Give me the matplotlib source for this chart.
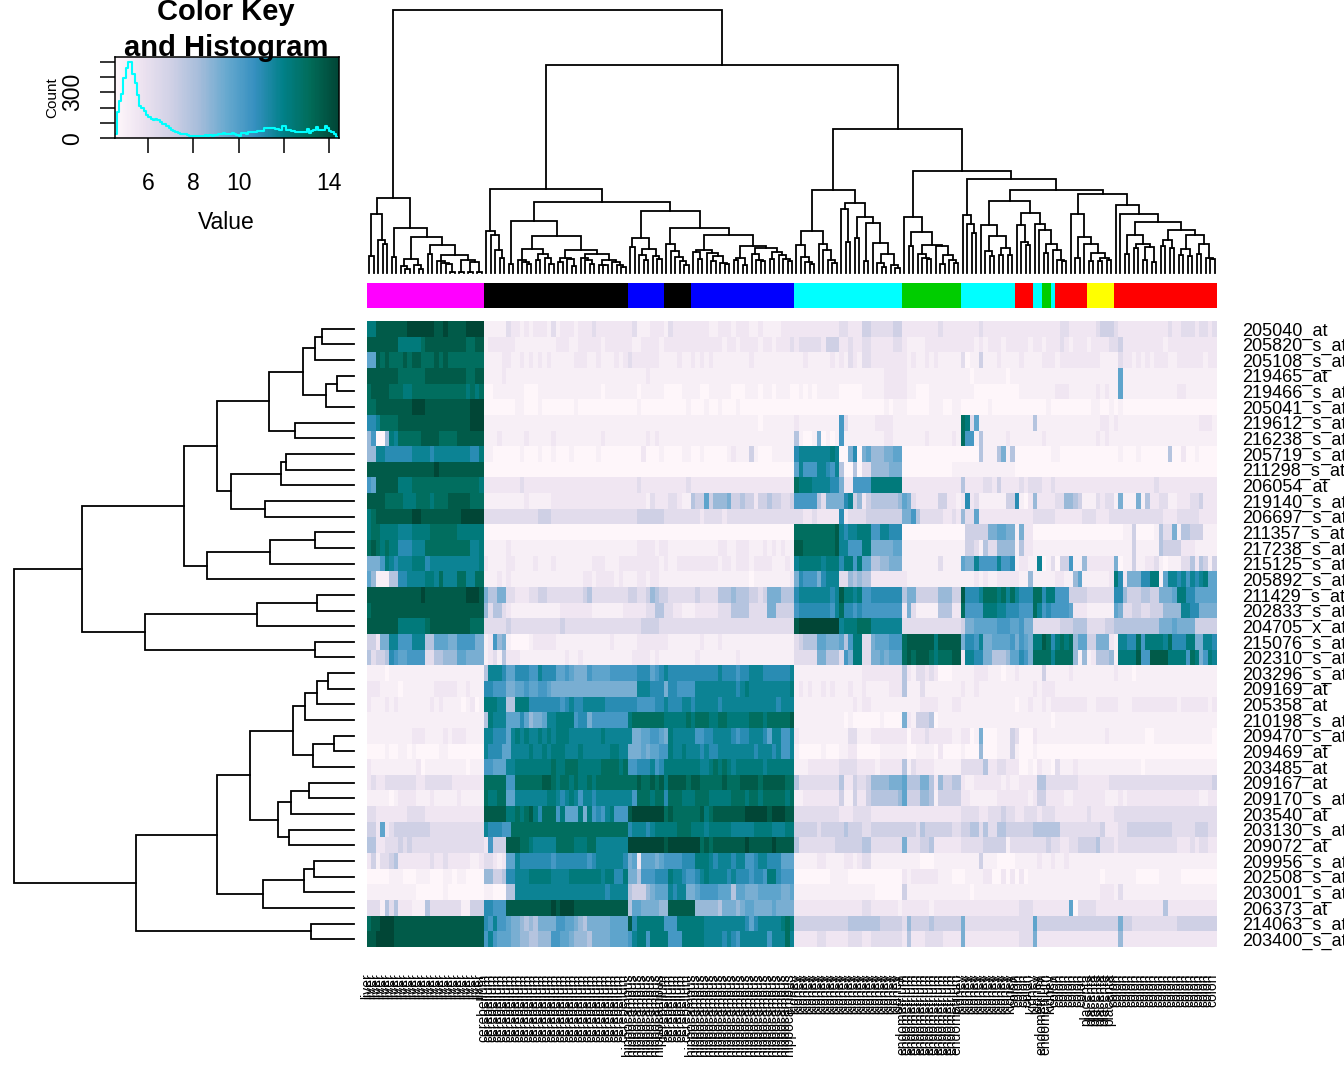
import numpy as np
import matplotlib
matplotlib.use("Agg")
import matplotlib.pyplot as plt
from matplotlib.colors import LinearSegmentedColormap, ListedColormap
from matplotlib.transforms import ScaledTranslation

W, H = 1344, 1075

plt.rcParams["font.family"] = ["Liberation Sans", "DejaVu Sans"]

PUBUGN = ["#FFF7FB", "#ECE2F0", "#D0D1E6", "#A6BDDB", "#67A9CF",
          "#3690C0", "#02818A", "#016C59", "#014636"]

# sample groups, left to right
TISSUE_NAMES  = ["liver", "cerebellum", "hippocampus", "cerebellum", "hippocampus",
                 "kidney", "endometrium", "kidney", "colon", "kidney",
                 "endometrium", "kidney", "colon", "placenta", "colon"]
TISSUE_COUNTS = [26, 32, 8, 6, 23, 24, 13, 12, 4, 2, 2, 1, 7, 6, 23]
TISSUE_COLORS = {
    "liver": "#FF00FF", "cerebellum": "#000000", "hippocampus": "#0000FF",
    "kidney": "#00FFFF", "endometrium": "#00CD00", "colon": "#FF0000",
    "placenta": "#FFFF00",
}

PROBES = [
    "205040_at", "205820_s_at", "205108_s_at", "219465_at", "219466_s_at",
    "205041_s_at", "219612_s_at", "216238_s_at", "205719_s_at", "211298_s_at",
    "206054_at", "219140_s_at", "206697_s_at", "211357_s_at", "217238_s_at",
    "215125_s_at", "205892_s_at", "211429_s_at", "202833_s_at", "204705_x_at",
    "215076_s_at", "202310_s_at", "203296_s_at", "209169_at", "205358_at",
    "210198_s_at", "209470_s_at", "209469_at", "203485_at", "209167_at",
    "209170_s_at", "203540_at", "203130_s_at", "209072_at", "209956_s_at",
    "202508_s_at", "203001_s_at", "206373_at", "214063_s_at", "203400_s_at",
]

# expression value for each hex digit used in ROW_LEVELS
LEVEL_VALUES = [4.6, 5.0, 5.5, 6.2, 7.0, 7.8, 8.5, 9.1, 9.7, 10.3, 11.0, 11.7, 12.3, 13.0, 13.7, 14.4]
KEY_MIN, KEY_MAX = 4.53, 14.41

# one string per probe, one hex digit per sample (0 = palest, f = darkest)
# blocks of ten so the columns stay countable
ROW_LEVELS = [
    "cceeeeeeef fffffeefee eeffff1111 1322121222 1312221222 3222222223 1112221322 2222221122 2122211211 1122222222 2222233222 4433333442 2222222322 2222223222 2222222222 2222332222 2234443222 2222222232 233323323",
    "eeeeeeeccc ccdeeeeeee eeddee1222 2221111111 1122211222 2212222221 1222212222 2222222221 2212222122 1222323333 3244422322 3322222332 1111222222 2222212122 2122222122 1222321222 1222233422 2222222122 222222222",
    "88ededdded eedddededd dddddd1111 2211212121 2111112221 1211121232 2222211112 1121212111 1111121111 1111111211 1112121321 3322222222 1211212111 1130114111 2111121111 2221222222 2221111322 1212122211 222222122",
    "eeeeeeeddd dddeeeeeee eeddee1111 2111111111 1111111111 1111111111 1121111111 1111111111 1111111111 1111111111 1111111111 1111122222 1111111111 1111011111 1101111111 1111111111 1111111811 1111111111 111111111",
    "deeeedddcc dddddddddd ddcdcd0011 1111100011 1111111111 1101111111 0111110000 1111001111 1000111011 0111001010 1111100000 1111122222 1100011111 1111100000 0000011111 1112221111 1121211811 1111111111 221111111",
    "ddeeeeeeee fffeeeeeee eeefff0000 0001100010 0000001000 0000000000 1000000000 0100010010 0010000000 0000000000 0000000000 0000010111 0000011100 1100000010 0000000000 0100000000 0110010100 0000000000 000000000",
    "aabddddeee eeeeeeeeee eeefff1111 1111111111 1111111111 1111111111 1111111111 1111111111 1111111011 1111121111 1111193111 1112222111 1111111111 11dc381111 1111111151 1111111111 1112212111 1111111111 111112221",
    "69006cbddd ddeeeedddd eeeeee1112 1111121111 1211111111 1121111111 1121211111 1111111111 1111111111 1111151001 7010191111 1111122111 1111211111 21d9915111 1121111111 2111111111 1121211111 1111111111 111111111",
    "66bbaaaaaa bbbbabbbbb bbbaac1100 0000100010 0100010000 0100000000 0200010000 1100100000 1211141000 11111abbbb bbbcb007a0 7866677880 0000000000 0000005111 5715000000 0011000000 0000000100 0100000050 020010000",
    "eeeeeeeeee eeeeefeeee eeeeee0000 0000000000 0000000000 0000000000 0000000000 0000000000 0000000000 000008b999 bba9b50050 3366667770 0000000000 1111111111 1111000000 0000000000 0000000000 0000000000 000000000",
    "98eeeeeccc dddddddddd dddddc2222 2222322222 2222222222 2222222222 3222222222 2322222222 2222222222 22222dcccb bbbaa72299 99ccccccc2 2222222222 2252222332 4222232333 2232222222 2222222222 2222232222 222222222",
    "eeeeddddcc cdddcdddee eeeddd1111 1111121111 1222222222 2222222222 2213222332 1154484666 7445442445 4433499999 537777ab46 2455555568 7322222442 212a231111 1144a10262 2223366541 1132331711 1715223311 222334222",
    "cdeeeeeeee ffeeeeeeee efffff3333 3333333344 4333333333 3333333333 4444443333 3333233332 3333333333 3333333223 22222a2333 3444444447 7953333322 3263382222 2222222233 3332222223 3322233333 3333333222 333332222",
    "cddccccbbb ccccdddddd cccccc0000 0000000000 0000000000 0000000000 0000000000 0000000000 0000000000 00000ddddd ddddebabbc cc99bbaaa0 0000000000 0004444477 8877172200 0000000000 0000000011 4000015337 155444111",
    "dedcdccaaa bbbddddddd dddbbc1111 1211111111 1111111111 1111111111 2222122111 1111111122 1122211121 21211eeddd ddddebb999 cc77777881 1111111111 1114431533 6666152211 1111111111 1111111111 4111115444 422211111",
    "7779cbabbb cccabbbbbb bbbbbc2111 1221111211 1211111111 2221112222 2222212112 2222222212 2122212222 11121bcccc cbcccacc9c 8855667771 1111111311 11877b9999 b99a12211b 0130449116 2222227011 4112231011 133525414",
    "8611155aab bbbccbdbbb ddbbdd1112 1211111111 1111111122 1222212111 2212211111 1111111111 1111101111 111127a999 7abbb33656 5522222222 1111111111 1111121211 2222211611 1112211681 111112ca27 77aacc18bb ab9babc88",
    "eeeeeeeeee eefeeeeeee eefffe7557 7332223344 3333333345 3333333344 3346544333 3334333355 5655544347 77555abbbb bbbabeccbc 99aaaaaaa5 7744444666 44eaaabddd cdbdbaaadd acc9994444 333333aa64 4455447778 ccaa88888",
    "deeeeeeeee eeeeeeeeee eeeeee6355 3211111111 1112222222 1111111222 2233553322 1112222233 3555533337 744449aaaa aaa9bdaa9a 9999999992 7311111555 22d9999ccc bbaaa999db 9a99998222 1111118733 4433444666 6bbaa7777",
    "eeeeeeeccc cccdeeeeee eeeddd3333 3433333333 3334333333 3333333333 3444433333 3333333333 3333333333 33333effff fffffbcccd ddbbbbbbb3 3333333333 3347788888 9998897733 3333444555 3333445555 5555557778 777744444",
    "44277bb999 bbb5588877 9999771296 7100001222 2211111111 1111211111 2222222111 1111211121 1111111111 1111134555 88777859cc 337888999d eeeeeeceee ee7aa9b778 88897987cc edacdcd688 4477721bba ad9ccccbda aacc77bba",
    "53445a9889 9993355666 8877771231 5222111111 1111211211 1111111112 2221211111 1112111111 1121111111 1111133333 77555397cc 337787888d edeeedcddd ee2bbaa775 55688a97dd ddbdddd616 1255561ccc ce99eeeecc cc9dc79cb",
    "1111011111 1111111111 1111115bbb a88aaa99ba aa88987779 8888999999 aaa89abaaa aaaaaaaaba aa9aabbbaa aaaab11111 1111111111 2222222225 2133232000 1111122211 1011211111 4111112111 1111112111 0111111111 111111111",
    "2221111011 1111122222 112111aa99 9778898899 8777777777 7777777777 bbbaaa7aa9 999bbbbbbb bbabcbbbbb bbbbc12121 1212111211 2111112225 1113111111 1121121111 1111111121 2221111111 1111111111 1111111111 111111111",
    "2111212111 1111212111 101201cccb b55cccaaaa aaa9abaabb bbbaaaaaaa 9999aabaaa bbabbbbbab bbbbbbbbbb babbb11111 1111111121 2211111111 1112222111 2211111111 1111011211 2122222222 1122222111 2222222222 122222212",
    "1111111111 1111111111 1111115cbb b888a86778 bbcccc9aa7 99999999cd ddddddcccc cdcdddccdd cccccdddcd dddde11111 1111110100 0000100007 2144450111 1111111111 1111111111 1101111111 1111111111 1111111111 111111111",
    "1111111111 2221111212 221111bbaa a8bcbcbbcb cbcccbbbbb bbcbbbbbb7 7889987cbb bbb99aabbb ba9aabbba8 bb99b21111 1111111331 1122222222 0222322222 1122017000 1114300021 1111111111 1111211111 1110011111 111111110",
    "0000100110 1000001100 000000baaa 88bbbbcbbc bcccbbbcbb bbbbccbb77 7878899cbb cbbbabaabb bbbbbbabbb ab99b10000 0100011220 0000111111 0011110200 0010006000 1114100010 0000000000 0000000000 0000000000 000000000",
    "2111111111 1201111111 1101119988 8bbccccccc cdccdddccc ccddddcd99 aaab9acccc ccccbbcdcd cbccccccbc ccccc11122 2222233332 2221222225 1322221111 1133333522 3322200102 1103111211 1111111111 1101111111 111111111",
    "2322333333 3223333332 222222dddd d99dddddde edcddcdccd cddddddddd eddedeceee edeeddddde dddeeeedee eeedd53333 3333352243 3466667778 5557752644 5521122222 2121122225 5333333322 2222233333 3333333333 333333334",
    "1111101222 2111211111 211111dccd d88bbbbbbb ccbabcb9bb abbbbbbbb9 dddcddaddd cccdddcccc cdddcddcdd dddcd11222 2222241142 2455555568 4446651444 4422111111 2222222124 4222211222 2222111212 2222222222 222221122",
    "3322222223 3332222222 222222eeee eccdcdecad dd9c888c7c 9a9bc999ef ffffffdedd ddddecdeee eeeefffffe fffee33333 3333322233 3322222222 2222222222 2233332233 3433223332 3332222222 3222223333 3333333333 333333333",
    "4428234444 4444333333 333333baaa 99dddddddd dddddddddd ddddddddab bbabcccccd ddcccbcccc cbbbbbcccc bbbcc44444 3444445444 3344444444 4435444444 3344553533 5544444455 5555333333 3334222334 4444444443 333344433",
    "5522333434 3333333333 3333332944 4eeeddcbbb bbddddcccd dbbbbbbbff ffffffefff ffffdedeee eeeefeeeee feeee53333 3333444444 5533333337 3334452222 2233333444 4413333333 3433223344 4453332333 3333333333 222323322",
    "2413345222 2222322322 2221123321 288baaaaaa a9aaaaaaa9 abbbbbba78 2888789999 aaacccbabb babb99abba aa88811111 2211112212 3311111111 1110001111 1111114111 0000111112 1121121111 1111111111 1111111111 111111111",
    "0000011100 0111000110 1100006644 5aabbbcccc cbbbbccccc ccbccaac77 5999aaacbb a99abcbbbb abaaa9aa9c ca99900000 0001111000 0000000002 1222222111 0001111220 0202020111 1111111111 1110111111 1000001111 100000000",
    "1111111111 1000000100 0000001100 055bbbbbbb bbbbbbbbbb bbbabbbb54 4467888bab b778999988 8588777888 8877811111 1111111111 1110000004 1111111111 1111011111 1111111111 1111111111 1112221311 1111111111 111111111",
    "3331535222 1115333333 311444aa99 9eeeeeeeee efefffeeee eeeeeeee58 8777766eee eee6666657 7767887777 8777722222 2222222222 3322222212 2222212222 2222222222 2222233322 2222228033 3322222222 2222222522 222222222",
    "deefffeeee eeeeeeeeee eeeeeea9b9 9877656577 7799887657 77778888ea cccccc999c cccccbbbbb bbbba8abbb bbcdc44444 4444444555 5555444443 6444454444 4473333333 3333333384 4444444444 4444444744 3333333333 444444444",
    "eeffffeeee eeeeeeeeee eeeeee9b98 8877665566 6998876665 777788889b cc9cccc999 cccccbbbba ba9bbbbbb9 bbbdb22222 3322222333 2233333332 5222333322 2272222222 2222233372 2222222222 2222222622 2222222222 222222222",
]

# color key histogram, bins 0.1 wide starting at 4.5
HIST_START = 4.5
HIST_COUNTS = [30, 170, 240, 290, 390, 460, 500, 500, 420, 360, 280, 210, 200, 180, 150,
               140, 125, 120, 125, 120, 105, 95, 95, 80, 70, 55, 45, 38, 32, 28, 25, 25,
               20, 18, 18, 16, 18, 14, 14, 18, 20, 18, 20, 18, 20, 22, 28, 30, 36, 28,
               30, 26, 34, 28, 20, 18, 32, 34, 30, 38, 38, 44, 44, 48, 48, 50, 65, 70,
               64, 70, 68, 62, 60, 55, 78, 78, 52, 55, 50, 48, 42, 44, 44, 42, 44, 58,
               35, 48, 52, 75, 55, 55, 56, 78, 70, 50, 40, 25, 10]
KEY_TICKS = [6, 8, 10, 12, 14]
KEY_TICK_LABELS = ["6", "8", "10", "", "14"]
COUNT_TICKS = [0, 100, 200, 300, 400, 500]
COUNT_TICK_LABELS = ["0", "", "", "300", "", ""]

# dendrograms: [height, left, right], 0 = leaf. heights in drawing units
LIVER_TREE = [75,
    [59, [17, 0, 0], [33, 0, [29, 0, 0]]],
    [45, [16, 0, 0],
     [36, [14, [7, 0, [4, 0, 0]], [8, 0, [4, 0, 0]]],
      [28, [19, 0, 0],
       [18, [12, 0, [10, 0, [9, 0, [1, 0, 0]]]],
        [13, [1, 0, 0], [11, [1, 0, 0], [1, 0, 0]]]]]]]]

BRAIN_TREE = [84,
    [42, 0, [38, 0, [23, 0, [15, 0, 0]]]],
    [71,
     [52, [9, 0, 0],
      [37,
       [24, [13, 0, [11, 0, [9, 0, 0]]], [19, [13, 0, 0], [15, 0, [9, 0, 0]]]],
       [23, [15, [11, 0, 0], [14, 0, [7, 0, 0]]],
        [19, [15, 0, [13, 0, [9, 0, 0]]],
         [13, [8, 0, [8, 0, 0]], [11, 0, [8, 0, [6, 0, 0]]]]]]]],
     [62,
      [35, [26, 0, 0], [24, [18, 0, [13, 0, 0]], [17, 0, [14, 0, 0]]]],
      [45,
       [29, 0, [22, 0, [16, 0, [12, 0, [8, 0, 0]]]]],
       [38,
        [23, [21, 0, [14, 0, 0]], [20, 0, [17, [12, 0, 0], [10, 0, [9, 0, 0]]]]],
        [27, [15, [13, 0, 0], [8, 0, 0]],
         [25, [19, 0, [13, 0, [12, 0, 0]]],
          [21, [14, 0, 0], [18, 0, [14, 0, [12, 0, 0]]]]]]]]]]]

KIDNEY_TREE = [83,
    [42, [28, 0, [16, 0, [11, 0, [9, 0, 0]]]], [29, 0, [23, 0, [13, 0, [10, 0, 0]]]]],
    [70, [64, 0, [31, 0, 0]],
     [56, [35, 0, 0],
      [50, [12, 0, 0],
       [30, 0, [19, [10, 0, [6, 0, 0]], [8, 0, [5, 0, 0]]]]]]]]

MIXED_TREE = [102,
    [56, 0, [41, [27, 0, 0],
             [28, [19, 0, [15, 0, [14, 0, 0]]],
              [27, 0, [18, [9, 0, 0], [13, 0, [10, 0, 0]]]]]]],
    [94,
     [58, 0, [49, 0, [40, 0, 0]]],
     [83,
      [72,
       [48, 0, [37, [22, 0, [17, 0, 0]], [25, [18, 0, 0], [18, 0, 0]]]],
       [60, [48, 0, [31, 0, [28, 0, 0]]],
        [49, 0, [43, 0, [29, [20, 0, 0], [23, 0, [13, 0, [12, 0, 0]]]]]]]],
      [79,
       [59, 0, [36, [15, 0, 0], [29, 0, [20, [12, 0, 0], [15, [12, 0, 0], [13, 0, 0]]]]]],
       [68, 0, [59, 0, [51,
         [38, [19, 0, 0], [29, [25, 0, 0], [26, [13, 0, 0], [11, 0, 0]]]],
         [43, [33, [27, 0, 0], [25, 0, 0]],
          [38, [24, [18, 0, 0], [17, 0, 0]],
           [29, [19, 0, 0], [15, 0, [14, 0, 0]]]]]]]]]]]]

SAMPLE_TREE = [263, LIVER_TREE, [208, BRAIN_TREE, [144, KIDNEY_TREE, MIXED_TREE]]]

PROBE_TREE = [340,
    [272,
     [170,
      [137,
       [85,
        [51, [39, [32, 0, 0], 0], [28, [17, 0, 0], 0]],
        [59, 0, 0]],
       [123,
        [73, [68, 0, 0], 0],
        [89, 0, 0]]],
      [147, [84, [39, 0, 0], 0], 0]],
     [209, [97, [37, 0, 0], 0], [39, 0, 0]]],
    [218,
     [137,
      [104,
       [61, [49, [37, [26, 0, 0], 0], 0], [41, [20, 0, 0], 0]],
       [76, [63, [45, 0, 0], 0], [65, 0, 0]]],
      [91, [50, [40, 0, 0], 0], 0]],
     [43, 0, 0]]]


def px_axes(fig, x0, y0, x1, y1):
    """axes from picture pixels (y goes down)"""
    return fig.add_axes([x0 / W, 1 - y1 / H, (x1 - x0) / W, (y1 - y0) / H])


def draw_tree(ax, node, next_leaf, horizontal=False):
    """walks the nested lists, returns (position, height) of the node"""
    if node == 0:
        pos = next_leaf[0] + 0.5
        next_leaf[0] += 1
        return pos, 0

    h, left, right = node
    p1, h1 = draw_tree(ax, left, next_leaf, horizontal)
    p2, h2 = draw_tree(ax, right, next_leaf, horizontal)
    ps = [p1, p1, p2, p2]
    hs = [h1, h, h, h2]
    if horizontal:
        ax.plot(hs, ps, color="black", lw=1.3, solid_joinstyle="miter", clip_on=False)
    else:
        ax.plot(ps, hs, color="black", lw=1.3, solid_joinstyle="miter", clip_on=False)
    return (p1 + p2) / 2, h


def main():
    bad = []
    rows = []
    for i, r in enumerate(ROW_LEVELS):
        r = r.replace(" ", "")
        if len(r) != 189:
            bad.append((i, len(r)))
        rows.append([LEVEL_VALUES[int(ch, 16)] for ch in r])
    assert not bad, bad
    values = np.array(rows)

    cmap = LinearSegmentedColormap.from_list("pubugn", PUBUGN, N=256)
    sample_tissues = [n for n, c in zip(TISSUE_NAMES, TISSUE_COUNTS) for _ in range(c)]

    fig = plt.figure(figsize=(W / 100, H / 100), dpi=100, facecolor="white")

    # --- heatmap ---
    ax = px_axes(fig, 367, 321, 1217, 947)
    ax.imshow(values, cmap=cmap, vmin=KEY_MIN, vmax=KEY_MAX, aspect="auto",
              interpolation="nearest", extent=[0, 189, 40, 0])
    for s in ax.spines.values():
        s.set_visible(False)
    ax.set_xticks(np.arange(189) + 0.5)
    ax.set_xticklabels(sample_tissues, rotation=90, fontsize=10, va="top", ha="center")
    ax.yaxis.tick_right()
    ax.set_yticks(np.arange(40) + 0.5)
    ax.set_yticklabels(PROBES, fontsize=13)
    ax.tick_params(axis="x", length=0, pad=19)
    ax.tick_params(axis="y", length=0, pad=18)
    # sample names sit a little left of their columns
    shift = ScaledTranslation(-2.5 / 100, 0, fig.dpi_scale_trans)
    for lbl in ax.get_xticklabels():
        lbl.set_transform(lbl.get_transform() + shift)

    # --- sample colour strip ---
    ax = px_axes(fig, 367, 283, 1217, 308)
    names = list(TISSUE_COLORS)
    strip = np.array([[names.index(t) for t in sample_tissues]])
    ax.imshow(strip, cmap=ListedColormap([TISSUE_COLORS[n] for n in names]),
              vmin=-0.5, vmax=len(names) - 0.5, aspect="auto", interpolation="nearest")
    ax.axis("off")

    # --- dendrograms ---
    ax = px_axes(fig, 367, 10, 1217, 273)
    ax.set_xlim(0, 189)
    ax.set_ylim(0, 263)
    ax.axis("off")
    draw_tree(ax, SAMPLE_TREE, [0])

    ax = px_axes(fig, 14, 321, 354, 947)
    ax.set_xlim(340, 0)
    ax.set_ylim(40, 0)
    ax.axis("off")
    draw_tree(ax, PROBE_TREE, [0], horizontal=True)

    # --- colour key ---
    ax = px_axes(fig, 115, 57, 338.5, 138.3)
    grad = np.linspace(KEY_MIN, KEY_MAX, 200).reshape(1, -1)
    ax.imshow(grad, cmap=cmap, vmin=KEY_MIN, vmax=KEY_MAX, aspect="auto",
              extent=[KEY_MIN, KEY_MAX, 0, 530], interpolation="nearest")
    centers = HIST_START + 0.05 + 0.1 * np.arange(len(HIST_COUNTS))
    ax.step(centers, HIST_COUNTS, where="mid", color="cyan", lw=1.5)
    ax.set_xlim(KEY_MIN, KEY_MAX)
    ax.set_ylim(0, 530)
    ax.set_xticks(KEY_TICKS)
    ax.set_xticklabels(KEY_TICK_LABELS, fontsize=16.5)
    ax.set_yticks(COUNT_TICKS)
    ax.set_yticklabels(COUNT_TICK_LABELS, fontsize=16.5, rotation=90, va="center")
    ax.tick_params(axis="x", length=11, width=1.1, pad=13.5)
    ax.tick_params(axis="y", length=11, width=1.1, pad=11)
    for s in ax.spines.values():
        s.set_linewidth(1.1)
    ax.set_xlabel("Value", fontsize=16.5, labelpad=11)
    fig.text(52 / W, 1 - 98 / H, "Count", fontsize=11, rotation=90, ha="center", va="center")

    fig.text(226 / W, 1 - 30 / H, "Color Key\nand Histogram", fontsize=21,
             fontweight="bold", ha="center", va="center", linespacing=1.33)

    fig.savefig("out.png", dpi=100, facecolor="white")
    plt.close(fig)


if __name__ == "__main__":
    main()
